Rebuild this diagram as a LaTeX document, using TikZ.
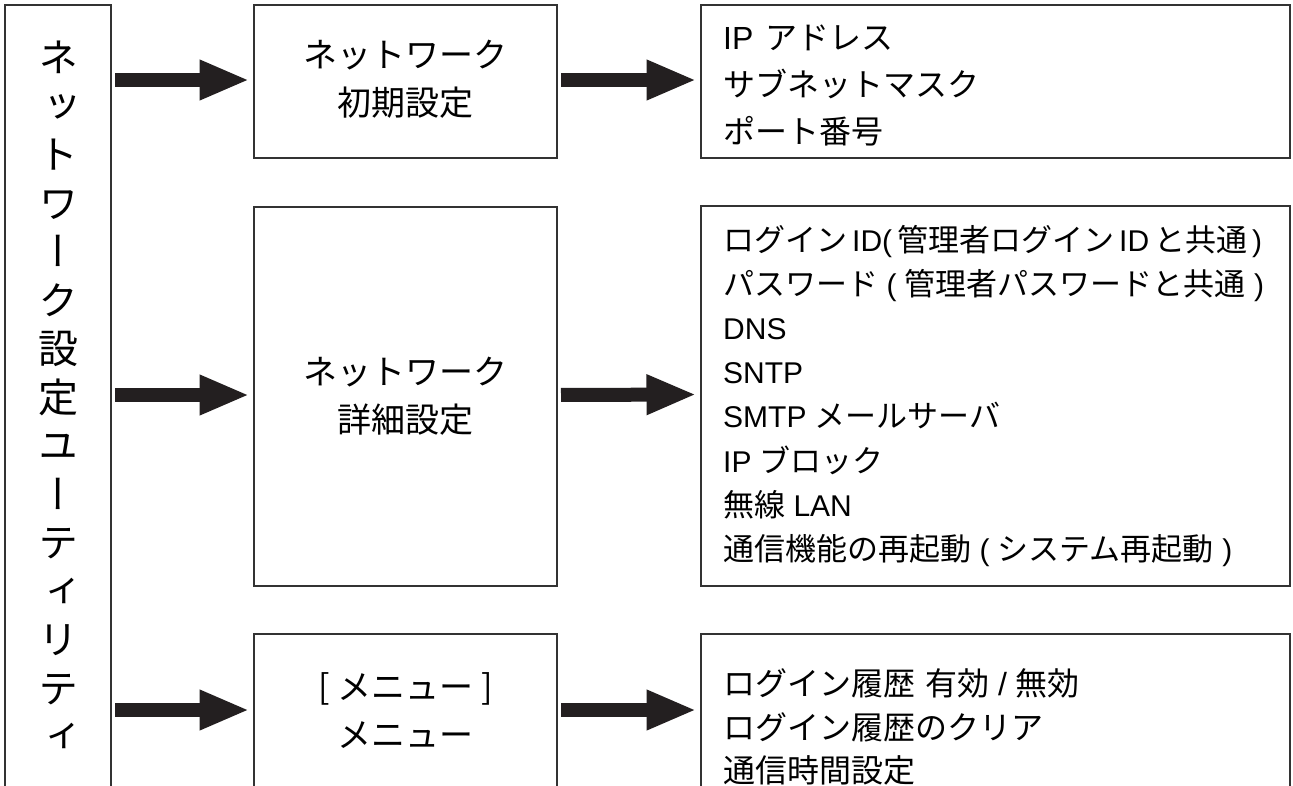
\documentclass[tikz,border=0pt]{standalone}
\usepackage{fontspec}
\setmainfont{Liberation Sans}
\newfontfamily\jp{Noto Sans CJK JP}
\newfontfamily\jpv[RawFeature=+vert]{Noto Sans CJK JP}
\usetikzlibrary{arrows.meta}
\definecolor{ink}{HTML}{231F20}
\definecolor{edge}{HTML}{333333}
\newcommand\jt[1]{{\jp #1}}
\newcommand\jb[1]{{\jp\fontsize{31}{36}\selectfont #1}}
\begin{document}
\begin{tikzpicture}[x=1pt,y=-1pt,
  box/.style={draw=edge,line width=1.8pt,rectangle,inner sep=0pt,outer sep=0pt},
  bigarrow/.style={draw=ink,line width=14pt,-{Triangle[length=50pt,width=37pt]},shorten <=4pt,shorten >=4.5pt},
  midtxt/.style={font=\fontsize{34}{48}\selectfont\jp,align=center,inner sep=0pt},
  item/.style={anchor=base west,inner sep=0pt,font=\fontsize{30}{36}\selectfont},
  itemA/.style={item,font=\fontsize{32}{36}\selectfont},
  itemB/.style={item,font=\fontsize{30}{36}\selectfont},
  itemC/.style={item,font=\fontsize{32}{36}\selectfont},
]
\useasboundingbox (0,0) rectangle (1293,785);
\clip (0,0) rectangle (1293,785);
% left column
\node[box,minimum width=106pt,minimum height=790pt] (L) at (58,400) {};
\node[inner sep=0pt,align=center,font=\fontsize{40}{48.5}\selectfont\jpv] (Lt) at (58,396.5)
  {ネ\\ッ\\ト\\ワ\\ー\\ク\\設\\定\\ユ\\ー\\テ\\ィ\\リ\\テ\\ィ};
% middle boxes
\node[box,minimum width=303pt,minimum height=153pt] (m1) at (405.5,81.5) {};
\node[midtxt] (m1t) at (405.5,79) {ネットワーク\\初期設定};
\node[box,minimum width=303pt,minimum height=379pt] (m2) at (405.5,396.5) {};
\node[midtxt] (m2t) at (405.5,396) {ネットワーク\\詳細設定};
\node[box,minimum width=303pt,minimum height=156pt] (m3) at (405.5,712) {};
\node[midtxt] (m3t) at (405.5,711) {[ メニュー ]\\メニュー};
% right boxes
\node[box,minimum width=589pt,minimum height=153pt] (r1) at (995.5,81.5) {};
\node[box,minimum width=589pt,minimum height=380pt] (r2) at (995.5,396) {};
\node[box,minimum width=589pt,minimum height=156pt] (r3) at (995.5,712) {};
% items box 1
\node[itemA] (a1) at (723,49) {IP\hspace{12pt}\jt{アドレス}};
\node[itemA] (a2) at (723,96) {\jt{サブネットマスク}};
\node[itemA] (a3) at (723,143) {\jt{ポート番号}};
% items box 2
\node[itemB] (b1) at (723,251) {\jb{ログイン}\hspace{5pt}ID(\hspace{5pt}\jb{管理者ログイン}\hspace{5pt}ID\hspace{5pt}\jb{と共通}\hspace{5pt})};
\node[itemB] (b2) at (723,295.2) {\jb{パスワード} ( \jb{管理者パスワードと共通} )};
\node[itemB] (b3) at (723,339.4) {DNS};
\node[itemB] (b4) at (723,383.6) {SNTP};
\node[itemB] (b5) at (723,427.8) {SMTP \jb{メールサーバ}};
\node[itemB] (b6) at (723,472) {IP \jb{ブロック}};
\node[itemB] (b7) at (723,516.2) {\jb{無線} LAN};
\node[itemB] (b8) at (723,560.4) {\jb{通信機能の再起動} ( \jb{システム再起動} )};
% items box 3
\node[itemC] (c1) at (723,695) {\jt{ログイン履歴}\hspace{10pt}\jt{有効} / \jt{無効}};
\node[itemC] (c2) at (723,739) {\jt{ログイン履歴のクリア}};
\node[itemC] (c3) at (723,782) {\jt{通信時間設定}};
% arrows
\coordinate (p1) at ([yshift=1.5pt]m1.west);
\coordinate (q1) at ([yshift=1.5pt]m1.east);
\coordinate (s1) at ([yshift=1.5pt]r1.west);
\coordinate (p2) at ([yshift=1.5pt]m2.west);
\coordinate (q2) at ([yshift=1.5pt]m2.east);
\coordinate (s2) at ([yshift=1.5pt]r2.west);
\coordinate (p3) at ([yshift=2pt]m3.west);
\coordinate (q3) at ([yshift=2pt]m3.east);
\coordinate (s3) at ([yshift=2pt]r3.west);
\draw[bigarrow] (L.east |- p1) -- (p1);
\draw[bigarrow] (q1) -- (s1);
\draw[bigarrow] (L.east |- p2) -- (p2);
\draw[bigarrow] (q2) -- (s2);
\draw[bigarrow] (L.east |- p3) -- (p3);
\draw[bigarrow] (q3) -- (s3);
\end{tikzpicture}
\end{document}
